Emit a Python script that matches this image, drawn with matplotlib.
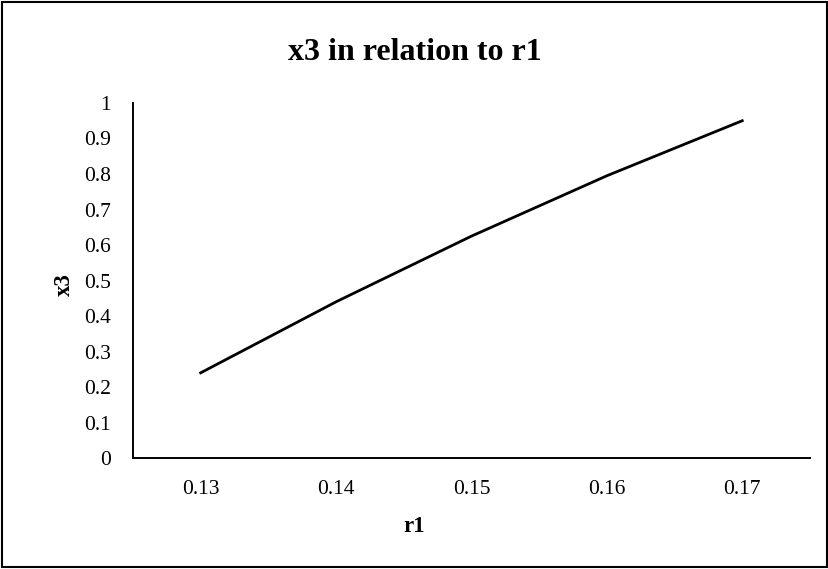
import matplotlib
matplotlib.use("Agg")
import matplotlib.pyplot as plt
from matplotlib.patches import Rectangle

# data
r1 = [0.13, 0.14, 0.15, 0.16, 0.17]
x3 = [0.24, 0.44, 0.625, 0.795, 0.95]
x_ticks = [0.13, 0.14, 0.15, 0.16, 0.17]
x_tick_labels = ["0.13", "0.14", "0.15", "0.16", "0.17"]
y_ticks = [0, 0.1, 0.2, 0.3, 0.4, 0.5, 0.6, 0.7, 0.8, 0.9, 1]
y_tick_labels = ["0", "0.1", "0.2", "0.3", "0.4", "0.5", "0.6", "0.7", "0.8", "0.9", "1"]

plt.rcParams["font.family"] = ["Liberation Serif", "DejaVu Serif"]

fig = plt.figure(figsize=(8.29, 5.69), dpi=100)
ax = fig.add_axes([0.1604, 0.195, 0.977 - 0.1604, 0.819 - 0.195])

ax.plot(r1, x3, color="black", linewidth=2)

ax.set_xlim(0.125, 0.175)
ax.set_ylim(0, 1)
ax.set_xticks(x_ticks)
ax.set_xticklabels(x_tick_labels)
ax.set_yticks(y_ticks)
ax.set_yticklabels(y_tick_labels)
ax.tick_params(length=0, labelsize=15.5, pad=16)
ax.tick_params(axis="x", pad=16)

for s in ["top", "right"]:
    ax.spines[s].set_visible(False)
for s in ["left", "bottom"]:
    ax.spines[s].set_linewidth(1.4)
    ax.spines[s].set_color("black")

fig.text(0.5, 1 - 52 / 569, "x3 in relation to r1", ha="center", va="center",
         fontsize=23, fontweight="bold")
fig.text(0.5, 1 - 527 / 569, "r1", ha="center", va="center",
         fontsize=16.5, fontweight="bold")
fig.text(64 / 829, 1 - 285 / 569, "x3", ha="center", va="center",
         fontsize=16.5, fontweight="bold", rotation=90)

# chart border
fig.patches.append(Rectangle((0.002, 0.003), 0.996, 0.994, transform=fig.transFigure,
                             fill=False, edgecolor="black", linewidth=1.5))

fig.savefig("out.png", dpi=100)
